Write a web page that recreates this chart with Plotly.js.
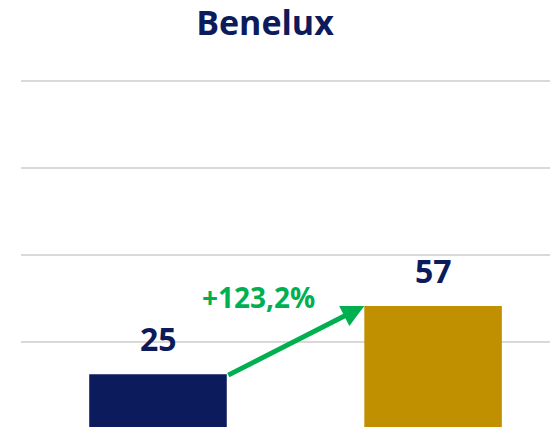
<!DOCTYPE html>
<html>
<head>
<meta charset="utf-8">
<script src="https://cdn.plot.ly/plotly-3.0.1.min.js"></script>
<style>html,body{margin:0;padding:0;background:#fff;}#chart{width:550px;height:427px;}</style>
</head>
<body>
<div id="chart"></div>
<script>
var categories = ["Vorher", "Nachher"];
var values = [25.4, 56.7];
var barColors = ["#0C1B5B", "#C09000"];
var titleText = "Benelux";

var navy = "#0C1B5B";
var green = "#00B050";
var barWidth = 0.5;

var growth = (values[1] / values[0] - 1) * 100;
var growthText = "+" + growth.toFixed(1).replace(".", ",") + "%";

var trace = {
  type: "bar",
  x: [0, 1],
  y: values,
  width: barWidth,
  marker: {color: barColors},
  hoverinfo: "skip"
};

var labelAnnots = values.map(function (v, i) {
  return {
    x: i, y: v, xref: "x", yref: "y",
    text: "<b>" + Math.round(v) + "</b>",
    showarrow: false, yanchor: "bottom", yshift: 12,
    font: {family: "Open Sans", size: 32, color: navy}
  };
});

var arrowAnnot = {
  xref: "x", yref: "y", axref: "x", ayref: "y",
  x: 1 - barWidth / 2, y: values[1],
  ax: 0 + barWidth / 2, ay: values[0] - 0.8,
  text: "", showarrow: true,
  arrowhead: 2, arrowsize: 0.9, arrowwidth: 5, arrowcolor: green,
  standoff: 0, startstandoff: 0
};

var pctAnnot = {
  xref: "x", yref: "y", x: 0.365, y: 60.8,
  text: "<b>" + growthText + "</b>", showarrow: false,
  xanchor: "center", yanchor: "middle",
  font: {family: "Open Sans", size: 28, color: green}
};

var layout = {
  width: 550, height: 427,
  margin: {l: 21, r: 0, t: 70, b: 0},
  paper_bgcolor: "#ffffff", plot_bgcolor: "#ffffff",
  showlegend: false,
  title: {
    text: "<b>" + titleText + "</b>",
    xref: "container", x: 265 / 550, xanchor: "center",
    yref: "container", y: 1 - 23 / 427, yanchor: "middle",
    font: {family: "Open Sans", size: 34, color: navy}
  },
  xaxis: {
    range: [-0.498, 1.425],
    showgrid: false, zeroline: false, showline: false,
    showticklabels: false, ticks: "", fixedrange: true,
    tickvals: [0, 1], ticktext: categories
  },
  yaxis: {
    range: [1.15, 164.9],
    tickvals: [40, 80, 120, 160],
    showgrid: true, gridcolor: "#D9D9D9", gridwidth: 2,
    zeroline: false, showline: false, showticklabels: false, ticks: "",
    fixedrange: true
  },
  annotations: labelAnnots.concat([arrowAnnot, pctAnnot])
};

Plotly.newPlot("chart", [trace], layout, {displayModeBar: false, staticPlot: true});
</script>
</body>
</html>
